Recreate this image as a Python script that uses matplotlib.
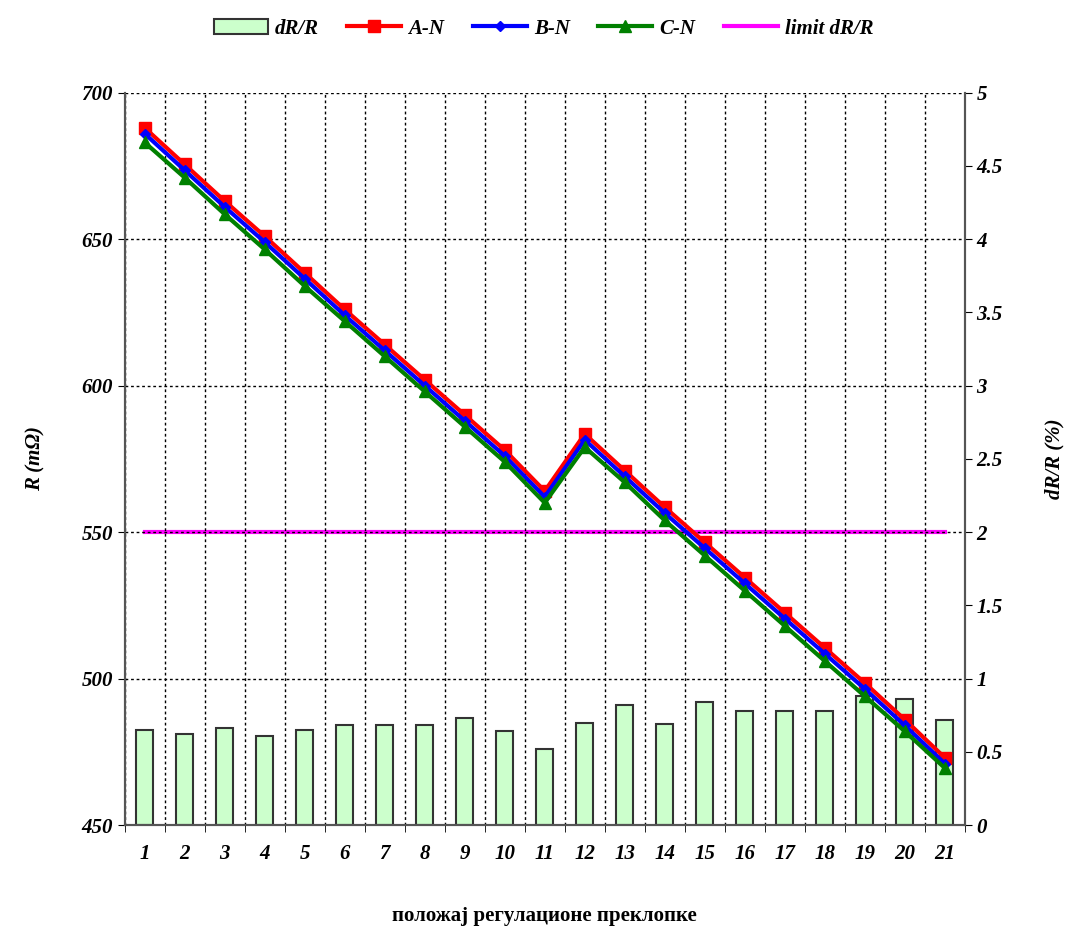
import matplotlib
matplotlib.use("Agg")
import matplotlib.pyplot as plt
import numpy as np

plt.rcParams["font.family"] = ["Liberation Serif", "DejaVu Serif"]

positions = list(range(1, 22))
a_n = [688, 675.5, 663, 651, 638.5, 626, 614, 602, 590, 578, 564,
       583.5, 571, 558.5, 546.5, 534.5, 522.5, 510.5, 498.5, 486, 473]
b_n = [686, 673.5, 661, 649, 636.5, 624, 612, 600, 588, 576, 562,
       581.5, 569, 556.5, 544.5, 532.5, 520.5, 508.5, 496.5, 484, 471]
c_n = [683, 671, 658.5, 646.5, 634, 622, 610, 598, 586, 574, 560,
       579, 567, 554, 542, 530, 518, 506, 494, 482, 469.5]
dr_r = [0.65, 0.62, 0.66, 0.61, 0.65, 0.68, 0.68, 0.68, 0.73, 0.64, 0.52,
        0.70, 0.82, 0.69, 0.84, 0.78, 0.78, 0.78, 0.88, 0.86, 0.72]
limit = 2

tfont = dict(fontweight="bold", fontstyle="italic")

fig = plt.figure(figsize=(10.66, 9.27), dpi=100)
ax1 = fig.add_axes([0.117, 0.110, 0.788, 0.790])
ax2 = ax1.twinx()
ax1.set_zorder(ax2.get_zorder() + 1)
ax1.patch.set_visible(False)

# bars + limit on right axis
bars = ax2.bar(positions, dr_r, width=0.42, color="#ccffcc", edgecolor="#333333",
               linewidth=1.5, label="dR/R")
lim_line, = ax2.plot([positions[0], positions[-1]], [limit, limit], color="#ff00ff",
                     lw=3, label="limit dR/R")
ax2.set_ylim(0, 5)
ax2.set_yticks(np.arange(0, 5.01, 0.5))
ax2.set_yticklabels(["0", "0.5", "1", "1.5", "2", "2.5", "3", "3.5", "4", "4.5", "5"])

# resistance lines on left axis
l1, = ax1.plot(positions, a_n, color="#ff0000", lw=3, marker="s", ms=9, label="A-N")
l2, = ax1.plot(positions, b_n, color="#0000ff", lw=3, marker="D", ms=5, label="B-N")
l3, = ax1.plot(positions, c_n, color="#008000", lw=3, marker="^", ms=9, label="C-N")
ax1.set_ylim(450, 700)
ax1.set_yticks(range(450, 701, 50))
ax1.set_xlim(0.5, 21.5)
ax1.set_xticks(positions)
ax1.set_xticks(np.arange(0.5, 21.6, 1), minor=True)
ax1.tick_params(axis="x", which="major", length=0, pad=14)
ax1.tick_params(axis="x", which="minor", length=5, direction="out")
ax1.tick_params(axis="y", length=5, direction="out")
ax2.tick_params(axis="y", length=5, direction="out")

ax1.grid(True, axis="y", which="major", color="black", linestyle=(0, (2, 2)), lw=1)
ax1.grid(True, axis="x", which="minor", color="black", linestyle=(0, (2, 2)), lw=1)
for ax in (ax1, ax2):
    ax.spines["top"].set_visible(False)
    for s in ("left", "right", "bottom"):
        ax.spines[s].set_color("#555555")
        ax.spines[s].set_linewidth(1.5)

for lab in ax1.get_xticklabels() + ax1.get_yticklabels() + ax2.get_yticklabels():
    lab.set_fontsize(15)
    lab.set_fontweight("bold")
    lab.set_fontstyle("italic")

ax1.set_ylabel("R (mΩ)", fontsize=15, labelpad=26, **tfont)
ax2.set_ylabel("dR/R (%)", fontsize=15, labelpad=30, **tfont)
ax1.set_xlabel("положај регулационе преклопке", fontsize=15, fontweight="bold", labelpad=30)

fig.legend([bars, l1, l2, l3, lim_line], ["dR/R", "A-N", "B-N", "C-N", "limit dR/R"],
           loc="upper center", bbox_to_anchor=(0.51, 1.0), ncol=5, frameon=False,
           prop=dict(size=15, weight="bold", style="italic"), handlelength=2.6,
           handletextpad=0.35, columnspacing=1.35)

plt.savefig("out.png", dpi=100)
